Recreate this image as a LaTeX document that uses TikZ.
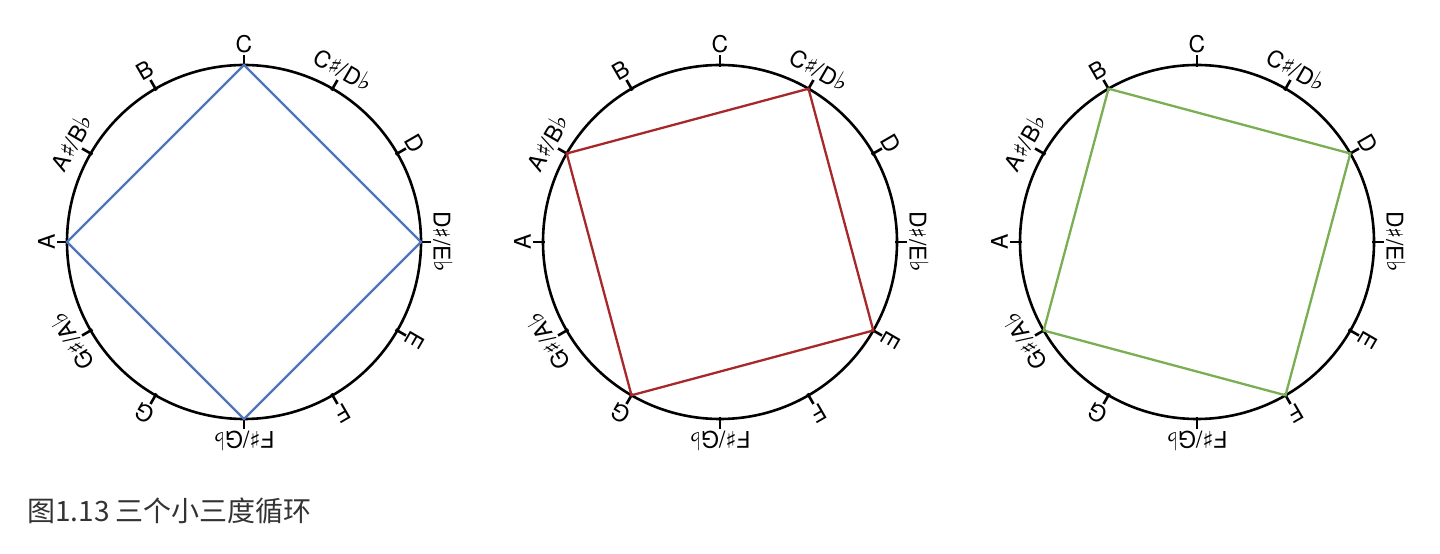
\documentclass[tikz,border=0pt]{standalone}
\usepackage{fontspec}
\setmainfont{TeX Gyre Heros}
\newfontfamily\cjkfont{Noto Sans CJK SC}
\newfontfamily\musicfont{DejaVu Sans}
\newcommand{\shp}{{\musicfont\fontsize{23}{23}\selectfont ♯}}
\newcommand{\flt}{{\musicfont\fontsize{25}{25}\selectfont\raisebox{1pt}{♭}}}
\usetikzlibrary{calc}
\definecolor{cycblue}{HTML}{4F75B8}
\definecolor{cycred}{HTML}{A8282A}
\definecolor{cycgreen}{HTML}{7AAE52}
\tikzset{
  notelabel/.style={font=\fontsize{23}{23}\selectfont, inner sep=0pt, anchor=south},
  dial/.style={line width=2.6pt},
  minorthird/.style={line width=2.3pt, line join=miter},
}

\begin{document}
\begin{tikzpicture}[x=1pt, y=1pt]
    \useasboundingbox (0,0) rectangle (1440,554);

    % three note dials
    \foreach \k/\cx in {1/244, 2/720, 3/1197} {
        \coordinate (o\k) at (\cx,312);
        \draw[dial] (o\k) circle (177pt);
        \foreach \name [count=\i from 0] in {{C}, {C\shp/D\flt}, {D}, {D\shp/E\flt}, {E}, {F},
            {F\shp/G\flt}, {G}, {G\shp/A\flt}, {A}, {A\shp/B\flt}, {B}} {
            \pgfmathsetmacro\ang{90-30*\i}
            \coordinate (n\k-\i) at ($(o\k)+(\ang:177pt)$);
            \draw[dial] ($(o\k)+(\ang:175pt)$) -- ($(o\k)+(\ang:187pt)$);
            \node[notelabel, rotate=\ang-90] (l\k-\i) at ($(o\k)+(\ang:189pt)$) {\name};
        }
    }

    % the three cycles of minor thirds
    \draw[minorthird, cycblue] (n1-0) -- (n1-3) -- (n1-6) -- (n1-9) -- cycle;
    \draw[minorthird, cycred] (n2-1) -- (n2-4) -- (n2-7) -- (n2-10) -- cycle;
    \draw[minorthird, cycgreen] (n3-2) -- (n3-5) -- (n3-8) -- (n3-11) -- cycle;

    \node[anchor=base west, inner sep=0pt, text=black!80, font=\cjkfont\fontsize{28}{28}\selectfont] (caption) at (27,32) {图1.13 三个小三度循环};
\end{tikzpicture}
\end{document}
